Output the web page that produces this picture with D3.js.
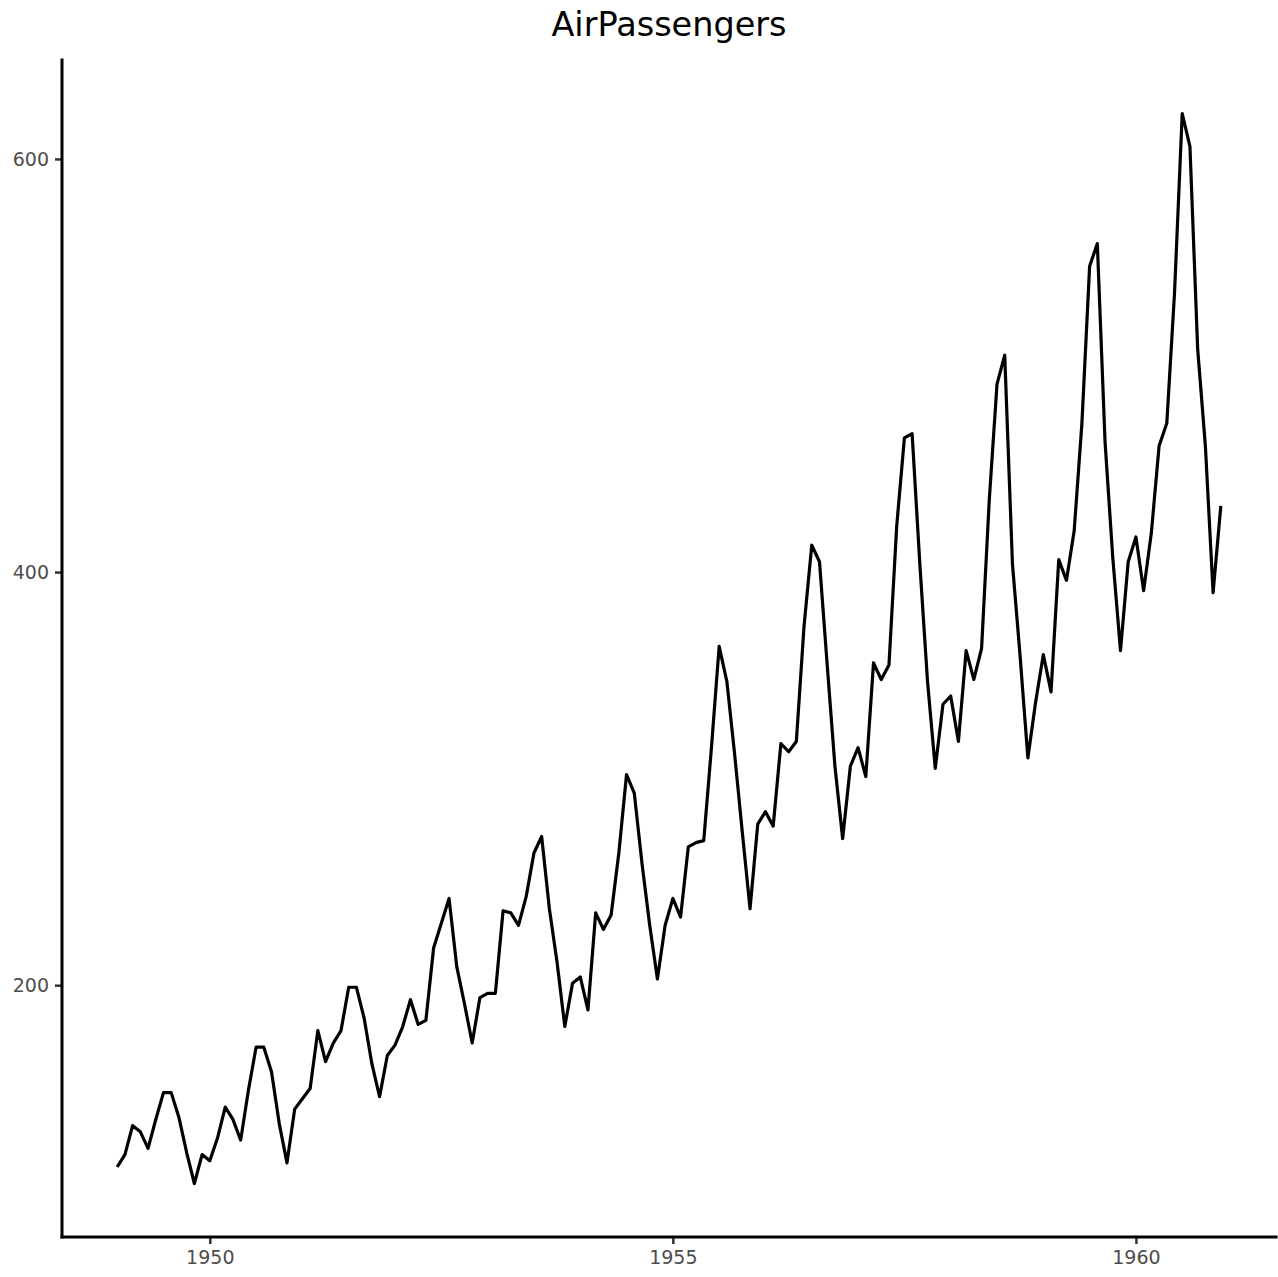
<!DOCTYPE html>
<html>
<head>
<meta charset="utf-8">
<script src="https://cdn.jsdelivr.net/npm/d3@7"></script>
<style>
  html, body { margin: 0; padding: 0; background: #fff; }
  svg { display: block; }
</style>
</head>
<body>
<svg id="chart" width="1278" height="1277"></svg>
<script>
// Monthly international airline passengers (thousands), 1949-1960
const startYear = 1949;
const passengers = [
  112, 118, 132, 129, 121, 135, 148, 148, 136, 119, 104, 118,
  115, 126, 141, 135, 125, 149, 170, 170, 158, 133, 114, 140,
  145, 150, 178, 163, 172, 178, 199, 199, 184, 162, 146, 166,
  171, 180, 193, 181, 183, 218, 230, 242, 209, 191, 172, 194,
  196, 196, 236, 235, 229, 243, 264, 272, 237, 211, 180, 201,
  204, 188, 235, 227, 234, 264, 302, 293, 259, 229, 203, 229,
  242, 233, 267, 269, 270, 315, 364, 347, 312, 274, 237, 278,
  284, 277, 317, 313, 318, 374, 413, 405, 355, 306, 271, 306,
  315, 301, 356, 348, 355, 422, 465, 467, 404, 347, 305, 336,
  340, 318, 362, 348, 363, 435, 491, 505, 404, 359, 310, 337,
  360, 342, 406, 396, 420, 472, 548, 559, 463, 407, 362, 405,
  417, 391, 419, 461, 472, 535, 622, 606, 508, 461, 390, 432
];
const xTicks = [1950, 1955, 1960];
const yTicks = [200, 400, 600];
const title = "AirPassengers";

const series = passengers.map((v, i) => ({ t: startYear + i / 12, v }));

const svg = d3.select("#chart");
const panel = { left: 62, right: 1276, top: 60, bottom: 1237 };
const font = "DejaVu Sans, Verdana, sans-serif";

// 5% padding on each side of the data range
function padded(ext) {
  const span = ext[1] - ext[0];
  return [ext[0] - span * 0.05, ext[1] + span * 0.05];
}

const x = d3.scaleLinear()
  .domain(padded(d3.extent(series, d => d.t)))
  .range([panel.left, panel.right]);

const y = d3.scaleLinear()
  .domain(padded(d3.extent(series, d => d.v)))
  .range([panel.bottom, panel.top]);

// Title
svg.append("text")
  .attr("x", (panel.left + panel.right) / 2)
  .attr("y", 36)
  .attr("text-anchor", "middle")
  .attr("font-family", font)
  .attr("font-size", 33.5)
  .attr("fill", "#000")
  .text(title);

// Series line
svg.append("path")
  .datum(series)
  .attr("fill", "none")
  .attr("stroke", "#000")
  .attr("stroke-width", 3.2)
  .attr("stroke-linejoin", "round")
  .attr("d", d3.line().x(d => x(d.t)).y(d => y(d.v)));

// Axes
const xAxis = d3.axisBottom(x).tickValues(xTicks).tickFormat(d3.format("d")).tickSize(7).tickPadding(7);
const yAxis = d3.axisLeft(y).tickValues(yTicks).tickFormat(d3.format("d")).tickSize(7).tickPadding(6);

const gx = svg.append("g").attr("transform", `translate(0,${panel.bottom})`).call(xAxis);
const gy = svg.append("g").attr("transform", `translate(${panel.left},0)`).call(yAxis);

[gx, gy].forEach(g => {
  g.select(".domain").remove();
  g.selectAll(".tick line").attr("stroke", "#333").attr("stroke-width", 2.5);
  g.selectAll(".tick text")
    .attr("fill", "#4d4d4d")
    .attr("font-family", font)
    .attr("font-size", 19);
});

// Axis lines along the panel edges
svg.append("line")
  .attr("x1", panel.left).attr("x2", panel.right)
  .attr("y1", panel.bottom).attr("y2", panel.bottom)
  .attr("stroke", "#000").attr("stroke-width", 3).attr("stroke-linecap", "square");
svg.append("line")
  .attr("x1", panel.left).attr("x2", panel.left)
  .attr("y1", panel.top).attr("y2", panel.bottom)
  .attr("stroke", "#000").attr("stroke-width", 3).attr("stroke-linecap", "square");
</script>
</body>
</html>
